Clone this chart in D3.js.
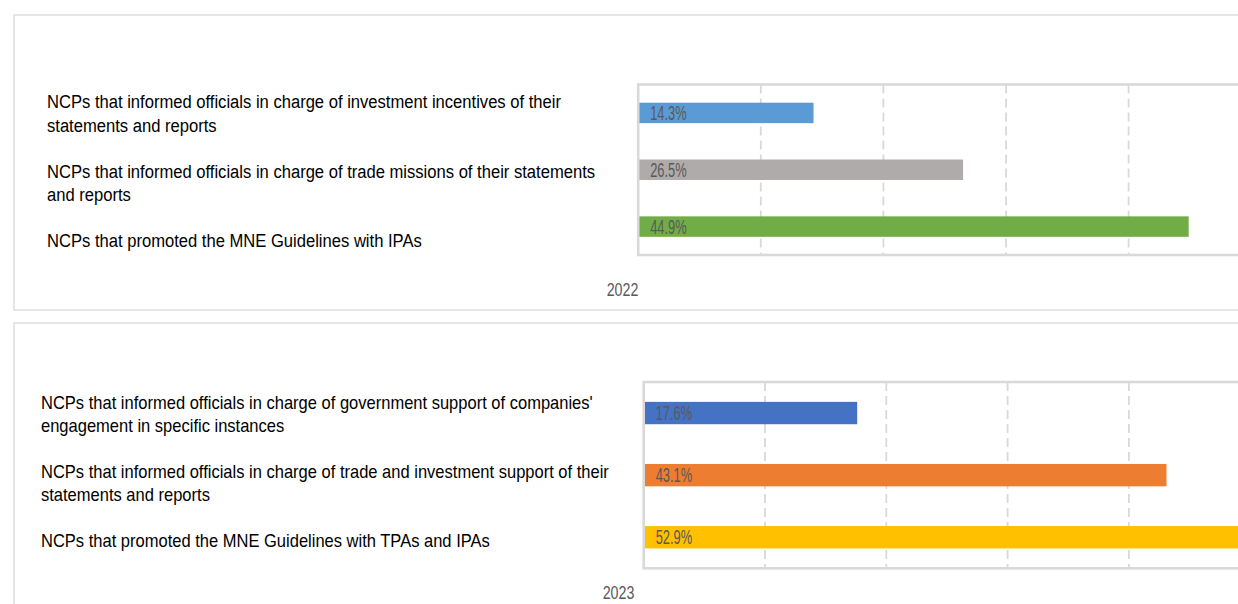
<!DOCTYPE html>
<html>
<head>
<meta charset="utf-8">
<script src="https://cdn.jsdelivr.net/npm/d3@7"></script>
<style>
  html, body { margin: 0; padding: 0; background: #fff; }
  svg { display: block; font-family: "Liberation Sans", Arial, sans-serif; }
</style>
</head>
<body>
<script>
// data
var labels2022 = [
  ["NCPs that informed officials in charge of investment incentives of their", "statements and reports"],
  ["NCPs that informed officials in charge of trade missions of their statements", "and reports"],
  ["NCPs that promoted the MNE Guidelines with IPAs"]
];
var values2022 = [14.3, 26.5, 44.9];

var labels2023 = [
  ["NCPs that informed officials in charge of government support of companies'", "engagement in specific instances"],
  ["NCPs that informed officials in charge of trade and investment support of their", "statements and reports"],
  ["NCPs that promoted the MNE Guidelines with TPAs and IPAs"]
];
var values2023 = [17.6, 43.1, 52.9];

var years = ["2022", "2023"];
var gridTicks = [10, 20, 30, 40, 50];

// styles
var colors2022 = ["#5b9bd5", "#afabab", "#70ad47"];
var colors2023 = ["#4472c4", "#ed7d31", "#ffc000"];

var width = 1238, height = 604;

var panels = [
  { year: years[0], labels: labels2022, values: values2022, colors: colors2022,
    box: {x: 14, y: 15, h: 295},
    plot: {x: 638.2, top: 84.5, bottom: 255, w: 735.6},
    label: {x: 47, y: 108.3, step: 69.3, line: 23.4, sx: 0.922},
    yearPos: {x: 622.5, y: 296} },
  { year: years[1], labels: labels2023, values: values2023, colors: colors2023,
    box: {x: 14, y: 323, h: 400},
    plot: {x: 643.7, top: 382, bottom: 568.3, w: 727.8},
    label: {x: 41, y: 409.3, step: 68.7, line: 22.6, sx: 0.918},
    yearPos: {x: 618.5, y: 599} }
];

var svg = d3.select("body").append("svg")
  .attr("width", width)
  .attr("height", height);

function addText(parent, x, y, str, size, sx, color, anchor) {
  var g = parent.append("g")
    .attr("transform", "translate(" + x + "," + y + ") scale(" + sx + ",1)");
  return g.append("text")
    .attr("font-size", size)
    .attr("fill", color)
    .attr("text-anchor", anchor || "start")
    .text(str);
}

panels.forEach(function(p) {
  var g = svg.append("g");

  // outer panel border (runs off the right edge)
  g.append("rect")
    .attr("x", p.box.x)
    .attr("y", p.box.y)
    .attr("width", width + 40)
    .attr("height", p.box.h)
    .attr("fill", "none")
    .attr("stroke", "#dcdcdc")
    .attr("stroke-width", 1.4);

  var x = d3.scaleLinear()
    .domain([0, 60])
    .range([p.plot.x, p.plot.x + p.plot.w]);

  var y = d3.scaleBand()
    .domain(d3.range(p.values.length))
    .range([p.plot.top, p.plot.bottom])
    .paddingInner(0.64)
    .paddingOuter(0.32);

  // dashed gridlines
  g.append("g")
    .selectAll("line")
    .data(gridTicks)
    .enter()
    .append("line")
    .attr("x1", function(d) { return x(d); })
    .attr("x2", function(d) { return x(d); })
    .attr("y1", p.plot.top)
    .attr("y2", p.plot.bottom)
    .attr("stroke", "#d9d9d9")
    .attr("stroke-width", 1.8)
    .attr("stroke-dasharray", "9,5");

  // bars
  g.append("g")
    .selectAll("rect")
    .data(p.values)
    .enter()
    .append("rect")
    .attr("x", x(0))
    .attr("y", function(d, i) { return y(i); })
    .attr("width", function(d) { return x(d) - x(0); })
    .attr("height", y.bandwidth())
    .attr("fill", function(d, i) { return p.colors[i]; });

  // plot frame
  g.append("rect")
    .attr("x", x(0))
    .attr("y", p.plot.top)
    .attr("width", width + 40)
    .attr("height", p.plot.bottom - p.plot.top)
    .attr("fill", "none")
    .attr("stroke", "#d9d9d9")
    .attr("stroke-width", 2.6);

  // value labels inside bars
  p.values.forEach(function(v, i) {
    addText(g, x(0) + 12, y(i) + y.bandwidth() / 2, v.toFixed(1) + "%", 19.5, 0.66, "#595959")
      .attr("dy", "0.36em");
  });

  // category labels
  p.labels.forEach(function(lines, i) {
    lines.forEach(function(t, j) {
      addText(g, p.label.x, p.label.y + i * p.label.step + j * p.label.line, t, 18, p.label.sx, "#000");
    });
  });

  // year
  addText(g, p.yearPos.x, p.yearPos.y, p.year, 19, 0.75, "#595959", "middle");
});
</script>
</body>
</html>
